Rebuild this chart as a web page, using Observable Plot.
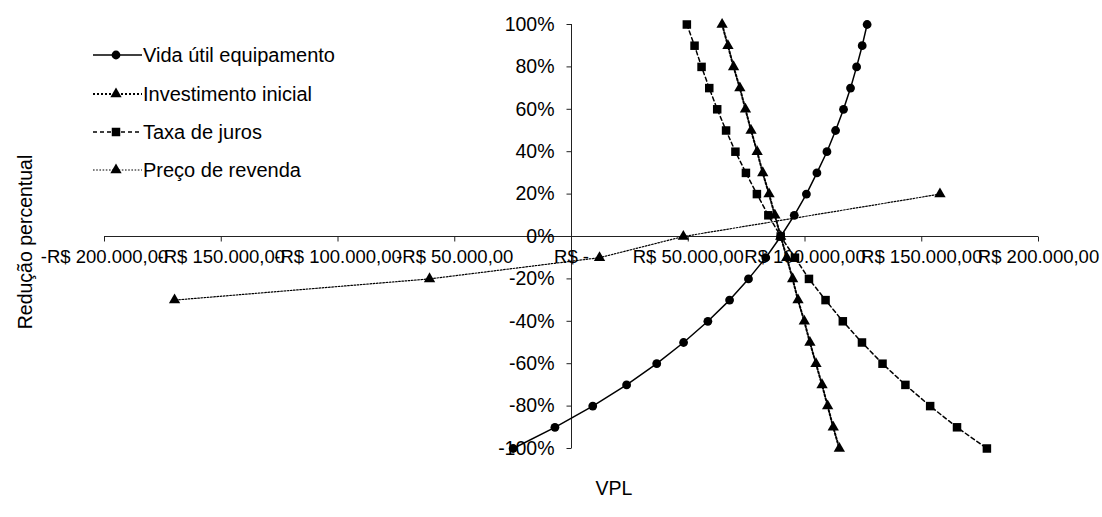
<!DOCTYPE html>
<html>
<head>
<meta charset="utf-8">
<script src="https://cdn.jsdelivr.net/npm/d3@7"></script>
<script src="https://cdn.jsdelivr.net/npm/@observablehq/plot@0.6"></script>
<style>
  html, body { margin: 0; padding: 0; background: #fff; }
  #chart { position: relative; width: 1102px; height: 517px; font-family: "Liberation Sans", Arial, sans-serif; color: #000; }
  #chart svg.plot { position: absolute; left: 0; top: 0; }
  .legend-item { position: absolute; left: 92px; height: 24px; display: flex; align-items: center; font-size: 20px; white-space: nowrap; transform: translateY(-50%); }
  .legend-item svg { margin-right: 1px; }
  .axis-title { position: absolute; font-size: 19.5px; white-space: nowrap; line-height: 1; }
</style>
</head>
<body>
<div id="chart"></div>
<script>
// Percentage change applied to each input (y axis)
const reducao = [1.0, 0.9, 0.8, 0.7, 0.6, 0.5, 0.4, 0.3, 0.2, 0.1, 0.0,
                 -0.1, -0.2, -0.3, -0.4, -0.5, -0.6, -0.7, -0.8, -0.9, -1.0];

// Resulting NPV (R$) for each input
const vidaUtil = [126600, 124500, 122100, 119500, 116500, 113100, 109400, 105100, 100600, 95400, 89600,
                  83200, 75800, 67700, 58400, 48000, 36500, 23600, 9100, -7100, -25000];
const investimentoInicial = [64500, 67000, 69400, 72100, 74500, 76900, 79500, 81900, 84600, 87100, 89600,
                             92200, 94700, 97000, 99700, 102100, 104700, 107300, 109700, 112100, 114700];
const taxaJuros = [49400, 52700, 55700, 59000, 62400, 66200, 70200, 74700, 79400, 84300, 89600,
                   95700, 101700, 108800, 116200, 124400, 133200, 143000, 153600, 165100, 177900];

// Resale price was only evaluated for a few changes
const revendaReducao = [0.2, 0.0, -0.1, -0.2, -0.3];
const precoRevenda = [157800, 47900, 12000, -60800, -170000];

const seriesNames = ["Vida útil equipamento", "Investimento inicial", "Taxa de juros", "Preço de revenda"];

// Axis ticks and their labels
const xTicks = [-200000, -150000, -100000, -50000, 0, 50000, 100000, 150000, 200000];
const xTickLabels = ["-R$ 200.000,00", "-R$ 150.000,00", "-R$ 100.000,00", "-R$ 50.000,00", "R$ -",
                     "R$ 50.000,00", "R$ 100.000,00", "R$ 150.000,00", "R$ 200.000,00"];
const yTicks = [1.0, 0.8, 0.6, 0.4, 0.2, 0.0, -0.2, -0.4, -0.6, -0.8, -1.0];
const yTickLabels = ["100%", "80%", "60%", "40%", "20%", "0%", "-20%", "-40%", "-60%", "-80%", "-100%"];
const xTitle = "VPL";
const yTitle = "Redução percentual";

const toRows = (xs, ys) => xs.map((x, i) => ({x, y: ys[i]}));
const vidaRows = toRows(vidaUtil, reducao);
const invRows = toRows(investimentoInicial, reducao);
const taxaRows = toRows(taxaJuros, reducao);
const revRows = toRows(precoRevenda, revendaReducao);

// Short tick marks drawn as custom symbols (downward for x, leftward for y)
const tickDown = {draw(ctx) { ctx.moveTo(0, 0); ctx.lineTo(0, 5); }};
const tickLeft = {draw(ctx) { ctx.moveTo(0, 0); ctx.lineTo(-5, 0); }};

const styles = {
  vida: {stroke: "#000", strokeWidth: 1.5},
  inv: {stroke: "#000", strokeWidth: 2, strokeDasharray: "2,2"},
  taxa: {stroke: "#000", strokeWidth: 1.5, strokeDasharray: "4,3"},
  rev: {stroke: "#000", strokeWidth: 1.2, strokeDasharray: "1.6,1.6"}
};
const triR = 4.2;

const plot = Plot.plot({
  width: 1102,
  height: 517,
  marginLeft: 104,
  marginRight: 64,
  marginTop: 24,
  marginBottom: 69,
  x: {domain: [-200000, 200000], axis: null},
  y: {domain: [-1, 1], axis: null},
  style: {fontFamily: "'Liberation Sans', Arial, sans-serif", background: "#fff", overflow: "visible"},
  marks: [
    // axes crossing at the origin
    Plot.ruleY([0], {stroke: "#222", strokeWidth: 1}),
    Plot.ruleX([0], {stroke: "#222", strokeWidth: 1}),
    Plot.dot(xTicks, {x: d => d, y: 0, symbol: tickDown, r: 3, stroke: "#222", fill: "none", strokeWidth: 1}),
    Plot.dot(yTicks, {x: 0, y: d => d, symbol: tickLeft, r: 3, stroke: "#222", fill: "none", strokeWidth: 1}),
    Plot.text(xTicks, {x: d => d, y: 0, text: (d, i) => xTickLabels[i], dy: 21, fontSize: 18.5, fill: "#000"}),
    Plot.text(yTicks, {x: 0, y: d => d, text: (d, i) => yTickLabels[i], dx: -17, textAnchor: "end", fontSize: 19.5, fill: "#000"}),

    // series lines
    Plot.line(vidaRows, {x: "x", y: "y", ...styles.vida}),
    Plot.line(invRows, {x: "x", y: "y", ...styles.inv}),
    Plot.line(taxaRows, {x: "x", y: "y", ...styles.taxa}),
    Plot.line(revRows, {x: "x", y: "y", ...styles.rev}),

    // series markers
    Plot.dot(vidaRows, {x: "x", y: "y", symbol: "circle", r: 4.4, fill: "#000"}),
    Plot.dot(invRows, {x: "x", y: "y", symbol: "triangle", r: triR, fill: "#000"}),
    Plot.dot(taxaRows, {x: "x", y: "y", symbol: "square", r: 4.8, fill: "#000"}),
    Plot.dot(revRows, {x: "x", y: "y", symbol: "triangle", r: triR, fill: "#000"})
  ]
});
plot.classList.add("plot");

const chart = document.getElementById("chart");
chart.appendChild(plot);

// Legend: line sample with marker, then the series name
const legendSpecs = [
  {style: styles.vida, symbol: d3.symbolCircle, size: Math.PI * 4.4 * 4.4},
  {style: styles.inv, symbol: d3.symbolTriangle, size: Math.PI * triR * triR},
  {style: styles.taxa, symbol: d3.symbolSquare, size: Math.PI * 4.8 * 4.8},
  {style: styles.rev, symbol: d3.symbolTriangle, size: Math.PI * triR * triR}
];
const legendRows = [55, 94, 132, 170];
seriesNames.forEach((name, i) => {
  const spec = legendSpecs[i];
  const item = document.createElement("div");
  item.className = "legend-item";
  item.style.top = legendRows[i] + "px";
  const svg = d3.create("svg").attr("width", 50).attr("height", 24);
  svg.append("line")
    .attr("x1", 1).attr("x2", 50).attr("y1", 12).attr("y2", 12)
    .attr("stroke", spec.style.stroke)
    .attr("stroke-width", spec.style.strokeWidth)
    .attr("stroke-dasharray", spec.style.strokeDasharray || null);
  svg.append("path")
    .attr("transform", "translate(24,12)")
    .attr("d", d3.symbol(spec.symbol, spec.size)())
    .attr("fill", "#000");
  item.appendChild(svg.node());
  const label = document.createElement("span");
  label.textContent = name;
  item.appendChild(label);
  chart.appendChild(item);
});

// Axis titles
const xt = document.createElement("div");
xt.className = "axis-title";
xt.textContent = xTitle;
xt.style.left = "614px";
xt.style.top = "489px";
xt.style.transform = "translate(-50%, -50%)";
chart.appendChild(xt);

const yt = document.createElement("div");
yt.className = "axis-title";
yt.textContent = yTitle;
yt.style.left = "26px";
yt.style.top = "242px";
yt.style.transform = "translate(-50%, -50%) rotate(-90deg)";
chart.appendChild(yt);
</script>
</body>
</html>
